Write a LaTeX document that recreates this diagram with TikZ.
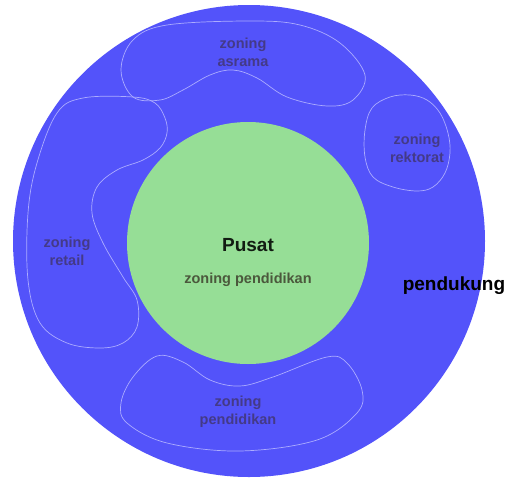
\documentclass[tikz,border=0pt]{standalone}
\usepackage{fontspec}
\setmainfont{Liberation Sans}
\definecolor{bigblue}{RGB}{83,83,250}
\definecolor{coregreen}{RGB}{150,222,150}
\definecolor{zoneline}{RGB}{172,172,255}
\definecolor{zonetext}{RGB}{68,58,135}
\definecolor{coretext}{RGB}{75,88,60}
\begin{document}
\begin{tikzpicture}[x=1pt,y=-1pt,
  zoneshape/.style={draw=zoneline,line width=0.7pt},
  zonelabel/.style={text=zonetext,font=\fontsize{14.5}{18}\selectfont\bfseries,align=center,inner sep=0pt},
]
\useasboundingbox (0,0) rectangle (512,480);
\fill[bigblue] (249,241) circle (236);
\fill[coregreen] (248,243) circle (121);
% asrama
\draw[zoneshape] plot[smooth cycle,tension=0.6] coordinates {
 (121,70) (133,40) (167,25) (250,21) (300,25) (340,43) (365,75) (353,100)
 (327,106) (287,97) (257,78) (233,70) (210,75) (183,90) (160,100) (133,97)};
% retail
\draw[zoneshape] plot[smooth cycle,tension=0.6] coordinates {
 (83,98) (133,97) (155,103) (165,118) (167,133) (160,148) (143,160) (117,170)
 (97,187) (92,213) (103,243) (123,277) (137,300) (137,327) (123,343) (100,348)
 (67,343) (40,323) (28,280) (28,213) (37,163) (57,113)};
% rektorat
\draw[zoneshape] plot[smooth cycle,tension=0.6] coordinates {
 (372,108) (390,97) (410,95) (427,100) (440,113) (448,133) (450,153) (445,173)
 (433,187) (417,191) (393,187) (373,177) (365,157) (365,130)};
% pendidikan
\draw[zoneshape] plot[smooth cycle,tension=0.6] coordinates {
 (157,356) (183,362) (210,380) (240,386) (273,377) (327,357) (347,363) (362,390)
 (357,413) (317,440) (240,451) (167,443) (127,423) (121,403) (133,377)};
\node[zonelabel] (asrama) at (243,52) {zoning\\asrama};
\node[zonelabel] (retail) at (67,251) {zoning\\retail};
\node[zonelabel] (rektorat) at (417,148) {zoning\\rektorat};
\node[zonelabel] (pendidikan) at (238,412) {zoning\\pendidikan};
\node[font=\fontsize{19}{22}\selectfont\bfseries,text={rgb,255:red,18;green,28;blue,18},inner sep=0pt] (pusat) at (248,245) {Pusat};
\node[font=\fontsize{14.5}{18}\selectfont\bfseries,text=coretext,inner sep=0pt] (corezone) at (248,280) {zoning pendidikan};
\node[font=\fontsize{19}{22}\selectfont\bfseries,text=black,inner sep=0pt] (pendukung) at (454,286) {pendukung};
\end{tikzpicture}
\end{document}
